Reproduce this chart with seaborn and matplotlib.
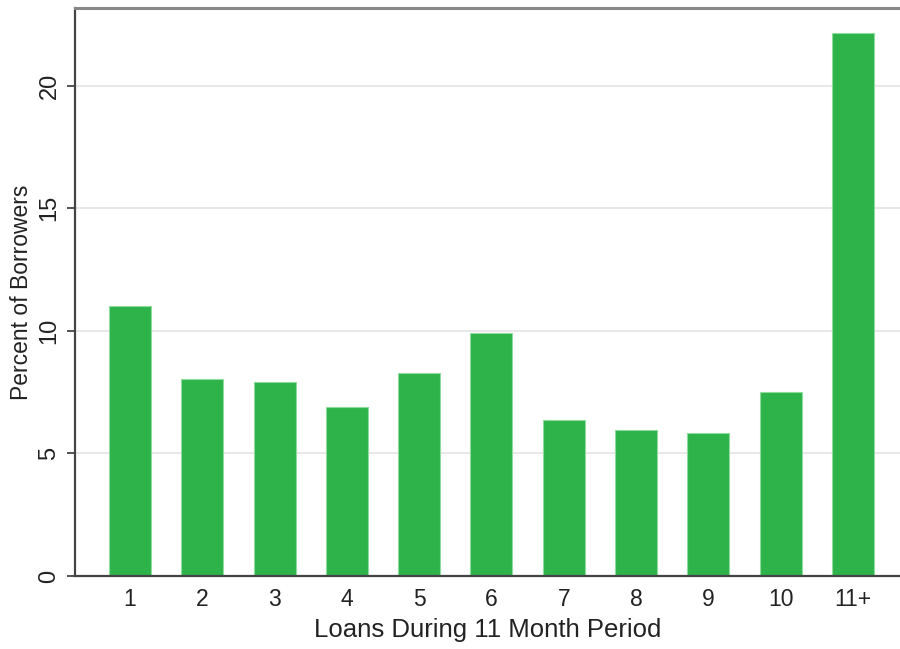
import pandas as pd
import seaborn as sns
import matplotlib.pyplot as plt

loans = ["1", "2", "3", "4", "5", "6", "7", "8", "9", "10", "11+"]
percent = [11.02, 8.02, 7.9, 6.9, 8.29, 9.9, 6.35, 5.96, 5.84, 7.49, 22.14]

df = pd.DataFrame({"loans": loans, "percent": percent})

sns.set_style("white")
plt.rcParams["font.family"] = ["Liberation Sans", "DejaVu Sans"]

fig = plt.figure(figsize=(9, 6.49), dpi=100)
ax = fig.add_axes([0.0833, 0.1125, 0.9167, 0.8745])

sns.barplot(data=df, x="loans", y="percent", color="#2db34a", saturation=1,
            width=0.58, edgecolor="#8fdc9c", linewidth=0.8, ax=ax)

ax.set_xlim(-0.76, 10.65)
ax.set_ylim(0, 23.15)
ax.set_yticks([0, 5, 10, 15, 20])
ax.yaxis.grid(True, color="#e8e8e8", linewidth=1.5)
ax.set_axisbelow(True)

for lab in ax.get_yticklabels():
    lab.set_rotation(90)
    lab.set_va("center")
ax.tick_params(axis="y", length=6, width=1.3, color="#444444", pad=4.5,
               labelsize=17, labelcolor="#222222", left=True)
ax.tick_params(axis="x", length=0, pad=9, labelsize=16.5, labelcolor="#222222")

ax.spines["right"].set_visible(False)
ax.spines["left"].set_color("#444444")
ax.spines["left"].set_linewidth(1.6)
ax.spines["bottom"].set_color("#444444")
ax.spines["bottom"].set_linewidth(1.6)
ax.spines["top"].set_color("#888888")
ax.spines["top"].set_linewidth(2.2)

ax.set_xlabel("Loans During 11 Month Period", fontsize=18.5, color="#222222", labelpad=5)
ax.set_ylabel("Percent of Borrowers", fontsize=16.5, color="#222222", labelpad=4)

plt.savefig("out.png", dpi=100)
